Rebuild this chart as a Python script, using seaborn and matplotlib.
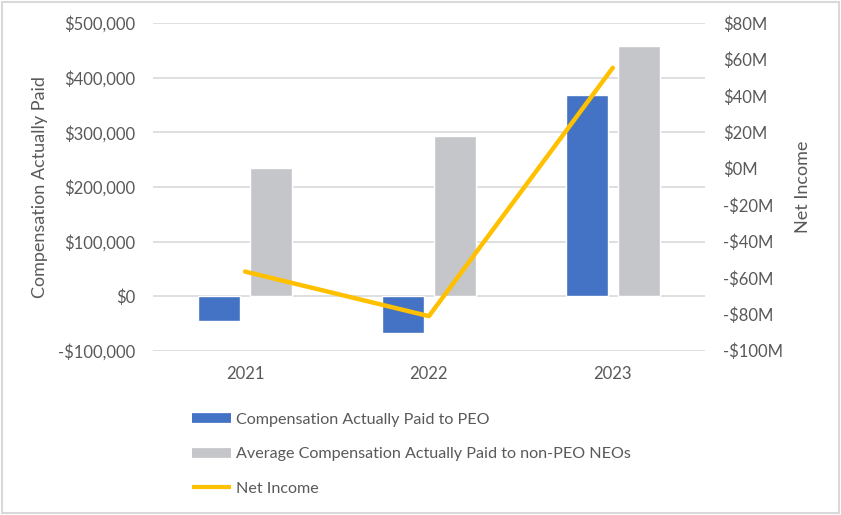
# Compensation actually paid vs net income - combo bar / line chart
import numpy as np
import pandas as pd
import matplotlib.pyplot as plt
import matplotlib.ticker as mticker
from matplotlib.lines import Line2D
import seaborn as sns

# Values.
years = ["2021", "2022", "2023"]
cap_peo = [-46000, -68000, 369000]
cap_non_peo = [234000, 293000, 458000]
net_income_m = [-56.5, -81.0, 55.5]

series_names = [
    "Compensation Actually Paid to PEO",
    "Average Compensation Actually Paid to non-PEO NEOs",
]
line_name = "Net Income"

blue = "#4472C4"
grey = "#C5C6C9"
gold = "#FFC000"
text_col = "#595959"

# Long table for seaborn.
df = pd.DataFrame({
    "year": years * 2,
    "value": cap_peo + cap_non_peo,
    "series": [series_names[0]] * len(years) + [series_names[1]] * len(years),
})

sns.set_theme(style="white")
plt.rcParams["font.family"] = ["Lato", "DejaVu Sans"]

fig = plt.figure(figsize=(8.41, 5.15), dpi=100)
ax = fig.add_axes([0.182, 0.319, 0.656, 0.636])

sns.barplot(data=df, x="year", y="value", hue="series",
            palette=[blue, grey], width=0.565, gap=0.19,
            saturation=1, legend=False, ax=ax)

ax.set_ylim(-100000, 500000)
ax.yaxis.set_major_locator(mticker.MultipleLocator(100000))
ax.yaxis.set_major_formatter(mticker.FuncFormatter(
    lambda v, p: f"-${abs(v):,.0f}" if v < 0 else f"${v:,.0f}"))
ax.grid(axis="y", color="#D9D9D9", lw=1.2)
ax.set_axisbelow(True)
for s in ax.spines.values():
    s.set_visible(False)
ax.tick_params(axis="both", length=0, colors=text_col, labelsize=12)
ax.tick_params(axis="y", pad=13)
ax.tick_params(axis="x", pad=11)
ax.set_xlabel("")
ax.set_ylabel("Compensation Actually Paid", color=text_col, fontsize=13, labelpad=7)

# Net income on secondary axis.
ax2 = ax.twinx()
sns.lineplot(x=np.arange(len(years)), y=net_income_m, color=gold, lw=3.2,
             ax=ax2, legend=False)
ax2.set_ylim(-100, 80)
ax2.yaxis.set_major_locator(mticker.MultipleLocator(20))
ax2.yaxis.set_major_formatter(mticker.FuncFormatter(
    lambda v, p: f"-${abs(v):.0f}M" if v < 0 else f"${v:.0f}M"))
for s in ax2.spines.values():
    s.set_visible(False)
ax2.tick_params(axis="y", length=0, colors=text_col, labelsize=12, pad=13)
ax2.set_ylabel("Net Income", color=text_col, fontsize=13, labelpad=9)
ax.set_xlim(-0.5, len(years) - 0.5)

# Legend below the plot.
handles = [
    Line2D([0], [0], color=blue, lw=7, solid_capstyle="butt"),
    Line2D([0], [0], color=grey, lw=7, solid_capstyle="butt"),
    Line2D([0], [0], color=gold, lw=3, solid_capstyle="butt"),
]
fig.legend(handles, series_names + [line_name], loc="upper left",
           bbox_to_anchor=(0.219, 0.215), frameon=False, fontsize=11.6,
           handlelength=2.4, handletextpad=0.3, labelspacing=1.27,
           labelcolor=text_col, borderpad=0)

# Light chart border.
fig.patches.append(plt.Rectangle((0.002, 0.003), 0.996, 0.994, fill=False,
                                 edgecolor="#D9D9D9", lw=1.5,
                                 transform=fig.transFigure, figure=fig))

fig.savefig("out.png", dpi=100)
